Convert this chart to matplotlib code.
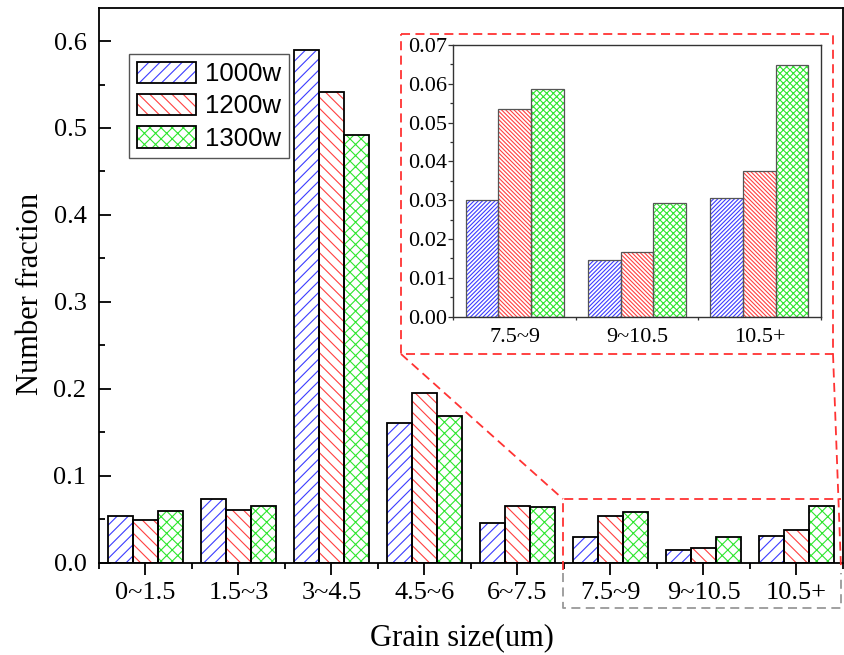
import numpy as np
import matplotlib
matplotlib.use("Agg")
import matplotlib.pyplot as plt
from matplotlib.lines import Line2D
from matplotlib.patches import Patch
from matplotlib.ticker import MultipleLocator, FormatStrFormatter

categories = ["0~1.5", "1.5~3", "3~4.5", "4.5~6", "6~7.5", "7.5~9", "9~10.5", "10.5+"]
series = ["1000w", "1200w", "1300w"]
v1000 = [0.054, 0.073, 0.590, 0.161, 0.046, 0.0300, 0.0145, 0.0305]
v1200 = [0.049, 0.061, 0.541, 0.195, 0.0655, 0.0536, 0.0167, 0.0375]
v1300 = [0.059, 0.065, 0.492, 0.169, 0.064, 0.0587, 0.0292, 0.0649]
inset_from = 5  # inset zooms on the last three size classes

colors = ["#3c3cff", "#ff4040", "#2ee62e"]
hatch_main = ["///", "\\\\\\", "xxx"]
hatch_inset = ["/" * 8, "\\" * 8, "x" * 5]

W, H = 845, 655
plt.rcParams["font.family"] = "Liberation Serif"
plt.rcParams["hatch.linewidth"] = 0.8


def fx(px):
    return px / W


def fy(py):
    return 1 - py / H


fig = plt.figure(figsize=(W / 100, H / 100), dpi=100)
ax = fig.add_axes([fx(99), fy(562.7), fx(843 - 99), (562.7 - 8) / H])

values = [v1000, v1200, v1300]
x = np.arange(len(categories))
bw = 0.8 / 3
for i, (vals, col, h) in enumerate(zip(values, colors, hatch_main)):
    pos = x + (i - 1) * bw
    ax.bar(pos, vals, bw, color="white", edgecolor=col, hatch=h, linewidth=0, zorder=2)
    ax.bar(pos, vals, bw, fill=False, edgecolor="black", linewidth=1.3, zorder=3)

ax.set_xlim(-0.5, len(categories) - 0.5)
ax.set_ylim(0, 0.638)
ax.set_xticks(x)
ax.set_xticklabels(categories)
ax.xaxis.set_minor_locator(MultipleLocator(1, offset=0.5))
ax.yaxis.set_major_locator(MultipleLocator(0.1))
ax.yaxis.set_minor_locator(MultipleLocator(0.05))
ax.yaxis.set_major_formatter(FormatStrFormatter("%.1f"))
ax.tick_params(axis="y", which="major", direction="in", length=8.6, width=1.3, labelsize=19, pad=9)
ax.tick_params(axis="y", which="minor", direction="in", length=4.5, width=1.3)
ax.tick_params(axis="x", which="major", direction="out", length=8.6, width=1.3, labelsize=19, pad=5)
ax.tick_params(axis="x", which="minor", direction="out", length=4.5, width=1.3)
for s in ax.spines.values():
    s.set_linewidth(1.3)

fig.text(fx(31), fy(294), "Number fraction", rotation=90, ha="center", va="center", fontsize=22)
fig.text(fx(462), fy(645), "Grain size(um)", ha="center", va="baseline", fontsize=22)

handles = []
for col, h in zip(colors, hatch_main):
    handles.append((Patch(facecolor="white", edgecolor=col, hatch=h, linewidth=0),
                    Patch(facecolor="none", edgecolor="black", linewidth=1.3)))
leg = ax.legend(handles, series, loc="upper left", bbox_to_anchor=(30 / 744, (562.7 - 54) / 554.7),
                borderaxespad=0, prop={"family": "Liberation Sans", "size": 18.5},
                handlelength=2.3, handleheight=0.9, handletextpad=0.35, labelspacing=0.3,
                borderpad=0.3, fancybox=False, framealpha=1, edgecolor="#555555")
leg.get_frame().set_linewidth(1.0)

# inset
ax2 = fig.add_axes([fx(453.3), fy(316.7), fx(820.7 - 453.3), (316.7 - 45) / H])
xi = np.arange(len(categories) - inset_from)
for i, (vals, col, h) in enumerate(zip(values, colors, hatch_inset)):
    pos = xi + (i - 1) * bw
    ax2.bar(pos, vals[inset_from:], bw, color="white", edgecolor=col, hatch=h, linewidth=0, zorder=2)
    ax2.bar(pos, vals[inset_from:], bw, fill=False, edgecolor="#555555", linewidth=0.9, zorder=3)
ax2.set_xlim(-0.5, len(xi) - 0.5)
ax2.set_ylim(0, 0.07)
ax2.set_xticks(xi)
ax2.set_xticklabels(categories[inset_from:])
ax2.xaxis.set_minor_locator(MultipleLocator(1, offset=0.5))
ax2.yaxis.set_major_locator(MultipleLocator(0.01))
ax2.yaxis.set_minor_locator(MultipleLocator(0.005))
ax2.yaxis.set_major_formatter(FormatStrFormatter("%.2f"))
ax2.tick_params(axis="y", which="major", direction="out", length=3.5, width=0.9, labelsize=16, pad=1, color="#333333")
ax2.tick_params(axis="y", which="minor", direction="out", length=2, width=0.9, color="#333333")
ax2.tick_params(axis="x", which="major", length=0, labelsize=16, pad=8)
ax2.tick_params(axis="x", which="minor", direction="out", length=2.5, width=0.9, color="#333333")
for s in ax2.spines.values():
    s.set_linewidth(1.0)
    s.set_edgecolor("#333333")

# zoom indicator lines
red = "#ff3333"
grey = "#999999"
dash = (5, 3)


def fline(xs, ys, color):
    fig.add_artist(Line2D([fx(v) for v in xs], [fy(v) for v in ys], color=color,
                          linewidth=1.3, linestyle=(0, dash), transform=fig.transFigure))


fline([401, 833, 833, 401, 401], [34, 34, 354, 354, 34], red)
fline([401, 563], [354, 499], red)
fline([833, 841], [354, 568], red)
fline([563, 563, 841], [570, 499, 499], red)
fline([563, 563, 841, 841], [573, 608, 608, 573], grey)

fig.savefig("out.png", dpi=100)
